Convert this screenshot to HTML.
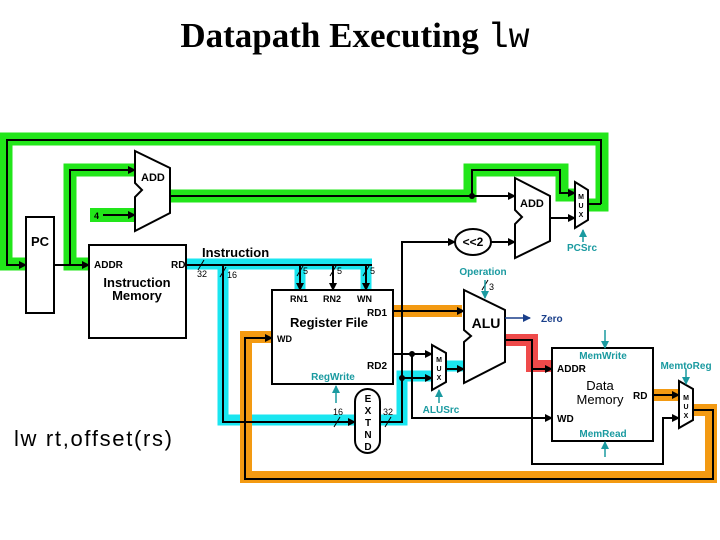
<!DOCTYPE html>
<html><head><meta charset="utf-8"><style>
html,body{margin:0;padding:0;background:#fff;}
svg{display:block;}
text{font-family:"Liberation Sans",sans-serif;font-weight:bold;}
.t{fill:#1a9aa0;font-size:10px;}
</style></head><body>
<svg width="720" height="540" viewBox="0 0 720 540" xmlns="http://www.w3.org/2000/svg">
<defs>
<marker id="a" markerWidth="8" markerHeight="8" refX="7" refY="4" orient="auto" markerUnits="userSpaceOnUse"><path d="M0,0 L8,4 L0,8 z" fill="#000"/></marker>
<marker id="at" markerWidth="8" markerHeight="8" refX="7" refY="4" orient="auto" markerUnits="userSpaceOnUse"><path d="M0,0 L8,4 L0,8 z" fill="#1a9aa0"/></marker>
<marker id="ab" markerWidth="8" markerHeight="8" refX="7" refY="4" orient="auto" markerUnits="userSpaceOnUse"><path d="M0,0 L8,4 L0,8 z" fill="#1a3f8a"/></marker>
</defs>
<text x="355" y="47" text-anchor="middle" style="font-family:'Liberation Serif',serif;font-size:35px;font-weight:bold">Datapath Executing <tspan style="font-family:'Liberation Mono',monospace;font-weight:normal">lw</tspan></text>

<g fill="none" stroke="#22e61a" stroke-width="13" stroke-linejoin="miter">
<path d="M54,264 L6,264 L6,139 L602,139 L602,205 L588,205"/>
<path d="M88,264 L70,264 L70,170 L135,170"/>
<path d="M170,196 L470,196 L470,170 L562,170 L562,195 L575,195"/>
</g>
<rect x="90" y="208" width="45" height="14" fill="#22e61a"/>
<g fill="none" stroke="#1ae6f0" stroke-width="11">
<path d="M186,264 L372,264"/>
<path d="M223,264 L223,420 L355,420"/>
<path d="M300,264 L300,290"/>
<path d="M366,264 L366,290"/>
<path d="M380,420 L402,420 L402,376 L432,376"/>
<path d="M446,366 L464,366"/>
</g>
<g fill="none" stroke="#f39a12" stroke-width="12">
<path d="M393,311 L462,311"/>
<path d="M653,395 L680,395"/>
<path d="M693,410 L711,410 L711,477 L246,477 L246,337 L272,337"/>
</g>
<path d="M505,340 L532,340 L532,366 L552,366" fill="none" stroke="#ef4a4a" stroke-width="12"/>

<g fill="none" stroke="#000" stroke-width="2">
<path d="M601,204 L588,204" />
<path d="M601,204 L601,140 L7,140 L7,265 L26,265" marker-end="url(#a)"/>
<path d="M54,265 L89,265" marker-end="url(#a)"/>
<path d="M70,265 L70,170 L135,170" marker-end="url(#a)"/>
<path d="M103,215 L135,215" marker-end="url(#a)"/>
<path d="M170,196 L472,196 L515,196" marker-end="url(#a)"/>
<path d="M472,196 L472,170 L560,170 L560,193 L575,193" marker-end="url(#a)"/>
<path d="M550,218 L575,218" marker-end="url(#a)"/>
<path d="M491,242 L515,242" marker-end="url(#a)"/>
<path d="M186,265 L372,265"/>
<path d="M223,265 L223,422 L355,422" marker-end="url(#a)"/>
<path d="M300,265 L300,290" marker-end="url(#a)"/>
<path d="M333,265 L333,290" marker-end="url(#a)"/>
<path d="M366,265 L366,290" marker-end="url(#a)"/>
<path d="M380,422 L402,422 L402,242 L455,242" marker-end="url(#a)"/>
<path d="M402,378 L432,378" marker-end="url(#a)"/>
<path d="M393,311 L464,311" marker-end="url(#a)"/>
<path d="M393,354 L432,354" marker-end="url(#a)"/>
<path d="M412,354 L412,418 L552,418" marker-end="url(#a)"/>
<path d="M446,369 L464,369" marker-end="url(#a)"/>
<path d="M505,340 L532,340 L532,369 L552,369" marker-end="url(#a)"/>
<path d="M532,369 L532,464 L663,464 L663,418 L679,418" marker-end="url(#a)"/>
<path d="M653,395 L679,395" marker-end="url(#a)"/>
<path d="M693,410 L713,410 L713,479 L245,479 L245,338 L272,338" marker-end="url(#a)"/>
</g>
<g fill="#000"><circle cx="472" cy="196" r="3"/><circle cx="402" cy="378" r="3"/><circle cx="412" cy="354" r="3"/></g>
<g stroke="#000" stroke-width="1"><path d="M198,270 L204,260"/><path d="M220,277 L226,267"/><path d="M297,276 L303,266"/><path d="M330,276 L336,266"/><path d="M363,276 L369,266"/><path d="M482,290 L488,280"/><path d="M334,427 L340,417"/><path d="M385,427 L391,417"/></g>
<g font-size="9"><text x="197" y="277" style="font-weight:normal">32</text><text x="227" y="278" style="font-weight:normal">16</text><text x="303" y="274" style="font-weight:normal">5</text><text x="337" y="274" style="font-weight:normal">5</text><text x="370" y="274" style="font-weight:normal">5</text><text x="489" y="290" style="font-weight:normal">3</text><text x="333" y="415" style="font-weight:normal">16</text><text x="383" y="415" style="font-weight:normal">32</text></g>

<g fill="#fff" stroke="#000" stroke-width="2">
<rect x="26" y="217" width="28" height="96"/>
<rect x="89" y="245" width="97" height="93"/>
<rect x="272" y="290" width="121" height="94"/>
<rect x="552" y="348" width="101" height="93"/>
<path d="M135,151 L170,168 L170,213 L135,231 L135,197 L142,190 L135,183 Z"/>
<path d="M515,178 L550,196 L550,241 L515,258 L515,224 L522,217 L515,210 Z"/>
<path d="M464,290 L505,310 L505,362 L464,383 L464,342 L471,336 L464,330 Z"/>
<path d="M575,182 L588,190 L588,220 L575,228 Z"/>
<path d="M432,345 L446,353 L446,382 L432,390 Z"/>
<path d="M679,381 L693,389 L693,420 L679,428 Z"/>
<ellipse cx="473" cy="242" rx="18" ry="13"/>
<rect x="355" y="389" width="25" height="64" rx="12.5"/>
</g>

<g font-size="11">
<text x="31" y="246" font-size="13">PC</text>
<text x="141" y="181">ADD</text>
<text x="520" y="207">ADD</text>
<text x="94" y="268" font-size="10">ADDR</text>
<text x="171" y="268" font-size="10">RD</text>
<text x="137" y="287" font-size="13" text-anchor="middle">Instruction</text>
<text x="137" y="300" font-size="13" text-anchor="middle">Memory</text>
<text x="202" y="257" font-size="13">Instruction</text>
<text x="290" y="302" font-size="9">RN1</text>
<text x="323" y="302" font-size="9">RN2</text>
<text x="357" y="302" font-size="9">WN</text>
<text x="367" y="316" font-size="10">RD1</text>
<text x="329" y="327" font-size="13" text-anchor="middle">Register File</text>
<text x="277" y="342" font-size="9">WD</text>
<text x="367" y="369" font-size="10">RD2</text>
<text x="473" y="246" font-size="12" text-anchor="middle">&lt;&lt;2</text>
<text x="486" y="328" font-size="14" text-anchor="middle">ALU</text>
<text x="557" y="372" font-size="10">ADDR</text>
<text x="600" y="390" font-size="13" text-anchor="middle" style="font-weight:normal">Data</text>
<text x="600" y="404" font-size="13" text-anchor="middle" style="font-weight:normal">Memory</text>
<text x="633" y="399" font-size="10">RD</text>
<text x="557" y="422" font-size="10">WD</text>
<text x="14" y="446" font-size="22" textLength="158" lengthAdjust="spacing" style="font-weight:normal">lw rt,offset(rs)</text>
<text x="94" y="219" font-size="9">4</text>
</g>
<g font-size="7" text-anchor="middle">
<text x="581" y="199">M</text><text x="581" y="208">U</text><text x="581" y="217">X</text>
<text x="439" y="362">M</text><text x="439" y="371">U</text><text x="439" y="380">X</text>
<text x="686" y="400">M</text><text x="686" y="409">U</text><text x="686" y="418">X</text>
</g>
<g font-size="10" text-anchor="middle">
<text x="368" y="402">E</text><text x="368" y="414">X</text><text x="368" y="426">T</text><text x="368" y="438">N</text><text x="368" y="450">D</text>
</g>
<g stroke="#1a9aa0" stroke-width="1.5" fill="none">
<path d="M583,242 L583,230" marker-end="url(#at)"/>
<path d="M485,280 L485,298" marker-end="url(#at)"/>
<path d="M336,403 L336,386" marker-end="url(#at)"/>
<path d="M439,403 L439,390" marker-end="url(#at)"/>
<path d="M605,330 L605,348" marker-end="url(#at)"/>
<path d="M605,457 L605,442" marker-end="url(#at)"/>
<path d="M686,369 L686,384" marker-end="url(#at)"/>
</g>
<path d="M505,318 L530,318" stroke="#1a3f8a" stroke-width="1.5" marker-end="url(#ab)"/>
<text x="541" y="322" font-size="10" fill="#1a3f8a">Zero</text>
<text class="t" x="582" y="251" text-anchor="middle">PCSrc</text>
<text class="t" x="483" y="275" text-anchor="middle">Operation</text>
<text class="t" x="333" y="380" text-anchor="middle">RegWrite</text>
<text class="t" x="441" y="413" text-anchor="middle">ALUSrc</text>
<text class="t" x="603" y="359" text-anchor="middle">MemWrite</text>
<text class="t" x="603" y="437" text-anchor="middle">MemRead</text>
<text class="t" x="686" y="369" text-anchor="middle">MemtoReg</text>
</svg>
</body></html>
